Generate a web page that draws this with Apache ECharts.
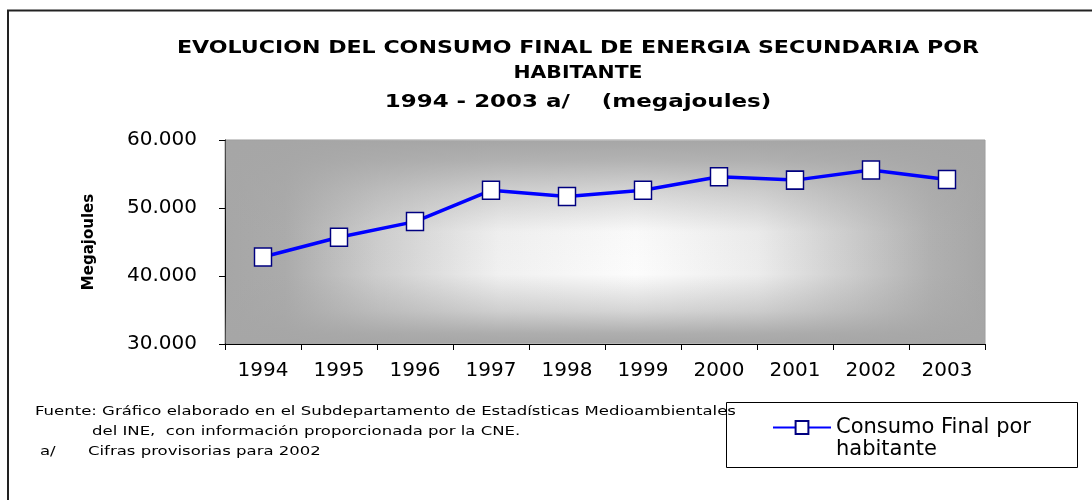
<!DOCTYPE html>
<html>
<head>
<meta charset="utf-8">
<script src="https://cdn.jsdelivr.net/npm/echarts@6/dist/echarts.min.js"></script>
<style>
html,body{margin:0;padding:0;background:#fff;}
#c{width:1092px;height:500px;}
</style>
</head>
<body>
<div id="c"></div>
<script>
var categories = ['1994','1995','1996','1997','1998','1999','2000','2001','2002','2003'];
var consumo = [42800, 45700, 48000, 52600, 51700, 52600, 54600, 54100, 55600, 54200];
var yTickValues = [30000, 40000, 50000, 60000];
var seriesName = 'Consumo Final por habitante';
var legendLines = ['Consumo Final por', 'habitante'];
var titleLines = ['EVOLUCION DEL CONSUMO FINAL DE ENERGIA SECUNDARIA POR', 'HABITANTE', '1994 - 2003 a/    (megajoules)'];
var footLines = [
  'Fuente: Gráfico elaborado en el Subdepartamento de Estadísticas Medioambientales',
  'del INE,  con información proporcionada por la CNE.',
  'a/',
  'Cifras provisorias para 2002'
];

function fmt(v){
  return String(v).replace(/\B(?=(\d{3})+(?!\d))/g, '.');
}

var chart = echarts.init(document.getElementById('c'), null, {renderer:'canvas'});
var GL = 225, GT = 140, GR = 985, GB = 344;
var font = 'DejaVu Sans';

function titleText(t, x, y, sx){
  return {type: 'text', x: x, y: y, scaleX: sx,
    style: {text: t, fontFamily: font, fontWeight: 'bold', fontSize: 17, fill: '#000', align: 'center', verticalAlign: 'middle'}};
}
function footText(t, x, y){
  return {type: 'text', x: x, y: y, scaleX: 1.27,
    style: {text: t, fontFamily: font, fontSize: 13, fill: '#000', verticalAlign: 'middle'}};
}

var option = {
  animation: false,
  backgroundColor: '#fff',
  legend: {
    left: 767, top: 412,
    itemWidth: 58, itemHeight: 16,
    itemGap: 0,
    formatter: function(){ return legendLines[0]; },
    textStyle: {fontFamily: font, fontSize: 21, color: '#000'}
  },
  grid: {
    left: GL, top: GT, right: 1092 - GR, bottom: 500 - GB,
    show: true,
    borderColor: '#9a9a9a', borderWidth: 1,
    backgroundColor: {
      type: 'linear', x: 0, y: 0, x2: 1, y2: 0,
      colorStops: [
        {offset: 0, color: '#a6a6a6'},
        {offset: 0.08, color: '#ababab'},
        {offset: 0.2, color: '#cdcdcd'},
        {offset: 0.36, color: '#f0f0f0'},
        {offset: 0.54, color: '#fcfcfc'},
        {offset: 0.7, color: '#ececec'},
        {offset: 0.84, color: '#c8c8c8'},
        {offset: 0.93, color: '#b0b0b0'},
        {offset: 1, color: '#a6a6a6'}
      ]
    }
  },
  xAxis: {
    type: 'category',
    data: categories,
    boundaryGap: true,
    axisLine: {lineStyle: {color: '#000', width: 1}},
    axisTick: {show: true, alignWithLabel: false, length: 6, lineStyle: {color: '#000'}},
    axisLabel: {fontFamily: font, fontSize: 20, color: '#000', margin: 17},
    splitLine: {show: false}
  },
  yAxis: {
    type: 'value',
    min: yTickValues[0], max: yTickValues[yTickValues.length-1], interval: 10000,
    name: 'Megajoules',
    nameLocation: 'middle',
    nameGap: 128,
    nameTextStyle: {fontFamily: font, fontWeight: 'bold', fontSize: 15, color: '#000'},
    axisLine: {show: true, lineStyle: {color: '#000', width: 1}},
    axisTick: {show: true, length: 6, lineStyle: {color: '#000'}},
    axisLabel: {fontFamily: font, fontSize: 20, color: '#000', margin: 28, formatter: fmt},
    splitLine: {show: false}
  },
  graphic: [
    {
      type: 'rect', silent: true, z: 1,
      shape: {x: GL + 0.5, y: GT + 0.5, width: GR - GL - 1, height: GB - GT - 1},
      style: {
        fill: {
          type: 'linear', x: 0, y: 0, x2: 0, y2: 1,
          colorStops: [
            {offset: 0, color: 'rgba(166,166,166,1)'},
            {offset: 0.1, color: 'rgba(166,166,166,0.85)'},
            {offset: 0.25, color: 'rgba(166,166,166,0.45)'},
            {offset: 0.45, color: 'rgba(166,166,166,0.03)'},
            {offset: 0.66, color: 'rgba(166,166,166,0)'},
            {offset: 0.84, color: 'rgba(166,166,166,0.45)'},
            {offset: 0.95, color: 'rgba(166,166,166,0.9)'},
            {offset: 1, color: 'rgba(166,166,166,1)'}
          ]
        }
      }
    },
    {
      type: 'rect', silent: true,
      shape: {x: 8, y: 10.5, width: 1200, height: 600},
      style: {fill: null, stroke: '#222', lineWidth: 2}
    },
    {
      type: 'rect', silent: true, z: -2,
      shape: {x: 726.5, y: 402.5, width: 351, height: 65},
      style: {fill: '#fff', stroke: '#000', lineWidth: 1}
    },
    {type: 'text', x: 836, y: 450, style: {text: legendLines[1], fontFamily: font, fontSize: 21, fill: '#000', verticalAlign: 'middle'}},
    titleText(titleLines[0], 578, 49, 1.3),
    titleText(titleLines[1], 578, 74, 1.2),
    titleText(titleLines[2], 578, 103, 1.35),
    footText(footLines[0], 35, 412),
    footText(footLines[1], 92, 432),
    footText(footLines[2], 40, 452),
    footText(footLines[3], 88, 452)
  ],
  series: [{
    name: seriesName,
    type: 'line',
    data: consumo,
    symbol: 'rect',
    symbolSize: [17, 18],
    showAllSymbol: true,
    lineStyle: {color: '#0000ff', width: 3.5},
    itemStyle: {color: '#ffffff', borderColor: '#000080', borderWidth: 1.5},
    z: 5
  }]
};
chart.setOption(option);
</script>
</body>
</html>
